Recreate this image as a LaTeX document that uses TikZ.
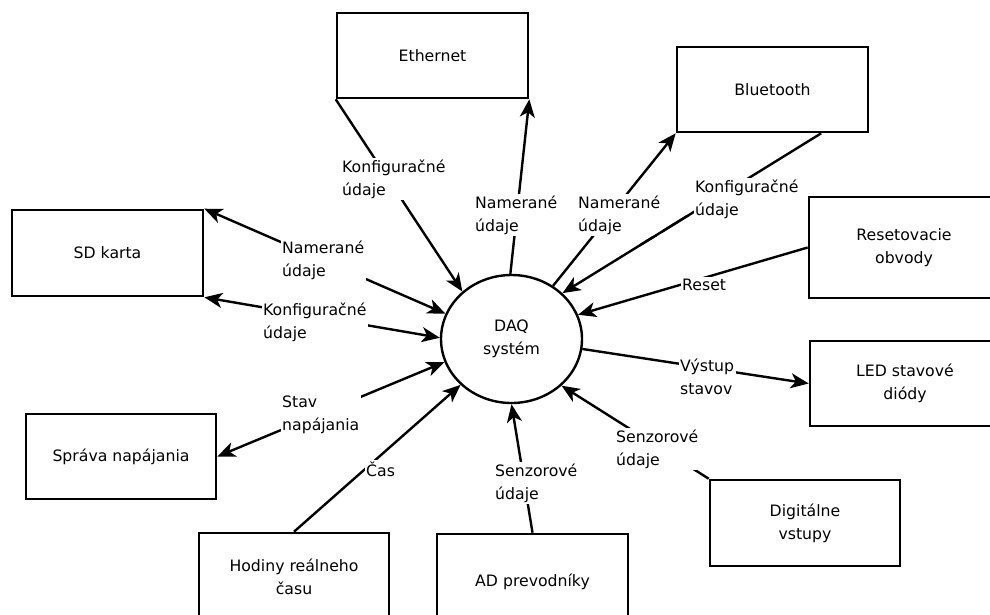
\documentclass[tikz,border=0pt]{standalone}
\usepackage{fontspec}
\setmainfont{DejaVu Sans}
\usetikzlibrary{arrows.meta,shapes.geometric}
\begin{document}
\begin{tikzpicture}[x=1pt,y=-1pt,
  txt/.style={font=\fontsize{15.7}{23}\selectfont},
  box/.style={txt, draw, line width=2.6pt, rectangle, inner sep=0pt, align=center},
  proc/.style={txt, draw, line width=2.4pt, ellipse, minimum width=141pt, minimum height=128pt, inner sep=0pt, align=center},
  conn/.style={line width=2.4pt},
  tipend/.style={-{Stealth[length=18pt,width=15pt,inset=5pt]}},
  tipboth/.style={{Stealth[length=18pt,width=15pt,inset=5pt]}-{Stealth[length=18pt,width=15pt,inset=5pt]}},
  lbl/.style={txt, fill=white, inner sep=1.5pt, align=left, anchor=west}]
\useasboundingbox (0,0) rectangle (990,614);
\clip (0,0) rectangle (990,614);

% boxes
\node[box, minimum width=191pt, minimum height=85pt] (eth) at (432.5,55.5) {Ethernet};
\node[box, minimum width=191pt, minimum height=85pt] (bt) at (772.5,89.5) {Bluetooth};
\node[box, minimum width=191pt, minimum height=86pt] (sd) at (107.5,253) {SD karta};
\node[box, minimum width=190pt, minimum height=85pt] (nap) at (121,456.5) {Správa napájania};
\node[box, minimum width=190pt, minimum height=88pt] (hod) at (294,577) {Hodiny reálneho\\času};
\node[box, minimum width=191pt, minimum height=96pt] (ad) at (532.5,582) {AD prevodníky};
\node[box, minimum width=190pt, minimum height=101pt] (res) at (904,247.5) {Resetovacie\\obvody};
\node[box, minimum width=190pt, minimum height=85pt] (led) at (905,383.5) {LED stavové\\diódy};
\node[box, minimum width=190pt, minimum height=86pt] (dig) at (805,523) {Digitálne\\vstupy};
\node[proc] (daq) at (511.5,339) {DAQ\\systém};

% connectors
\draw[conn, tipend] (eth.south west) -- (daq.136);
\draw[conn, tipend] (daq.91) -- (eth.south east);
\draw[conn, tipend] (daq.52) -- (bt.south west);
\draw[conn, tipend] (bt.-42.4) -- (daq.42);
\draw[conn, tipend] (res.west) -- (daq.20);
\draw[conn, tipend] (daq.-8.7) -- (led.west);
\draw[conn, tipend] (dig.north west) -- (daq.-43);
\draw[conn, tipend] (ad.north) -- (daq.-90);
\draw[conn, tipend] (hod.north) -- (daq.-138);
\draw[conn, tipboth] (nap.east) -- (daq.-161.4);
\draw[conn, tipboth] (sd.north east) -- (daq.159.6);
\draw[conn, tipboth] (sd.south east) -- (daq.179.2);

% labels
\node[lbl] (l1) at (340.5,179) {Konfiguračné\\údaje};
\node[lbl] (l2) at (473.5,215) {Namerané\\údaje};
\node[lbl] (l3) at (576.5,215) {Namerané\\údaje};
\node[lbl] (l4) at (693.5,199) {Konfiguračné\\údaje};
\node[lbl] (l5) at (680.5,284.5) {Reset};
\node[lbl] (l6) at (678.5,377) {Výstup\\stavov};
\node[lbl] (l7) at (614.5,449) {Senzorové\\údaje};
\node[lbl] (l8) at (493.5,483) {Senzorové\\údaje};
\node[lbl] (l9) at (364.5,469) {Čas};
\node[lbl] (l10) at (280.5,415) {Stav\\napájania};
\node[lbl] (l11) at (280.5,260) {Namerané\\údaje};
\node[lbl] (l12) at (261.5,322) {Konfiguračné\\údaje};

% the Bluetooth configuration line runs just past the label of the Bluetooth data line
\begin{scope}
  \clip (640,215) rectangle (690,300);
  \draw[conn] (bt.-42.4) -- (daq.42);
\end{scope}
\end{tikzpicture}
\end{document}
